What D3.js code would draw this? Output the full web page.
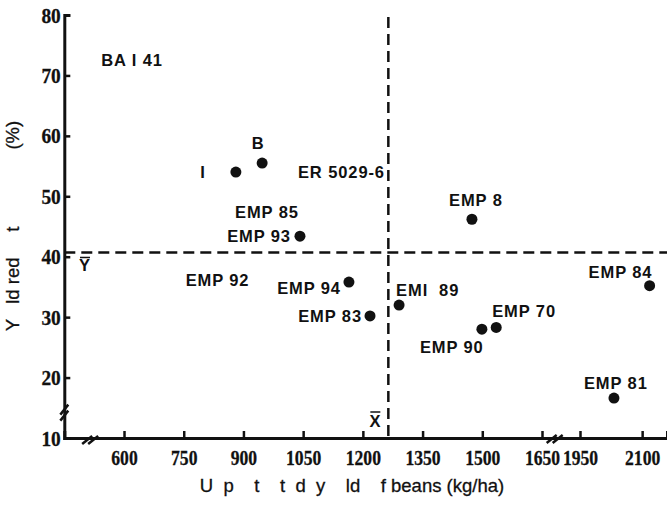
<!DOCTYPE html>
<html><head><meta charset="utf-8">
<script src="https://cdn.jsdelivr.net/npm/d3@7"></script>
<style>
html,body{margin:0;padding:0;background:#fff;}
svg{display:block;}
text{fill:#111;}
.tick text{font-family:"Liberation Serif",serif;font-weight:bold;font-size:22px;}
.lbl{font-family:"Liberation Sans",sans-serif;font-weight:bold;font-size:16.5px;letter-spacing:0.9px;}
.ttl{font-family:"Liberation Sans",sans-serif;font-size:18.5px;white-space:pre;stroke:#111;stroke-width:0.3px;}
</style></head><body>
<svg id="c" width="667" height="505"></svg>
<script>
// ---- data ----
const xTicks = [600, 750, 900, 1050, 1200, 1350, 1500, 1650, 1950, 2100];
const yTicks = [10, 20, 30, 40, 50, 60, 70, 80];
const names  = ["I", "B", "EMP 93", "EMP 94", "EMP 83", "EMI  89", "EMP 90", "EMP 70", "EMP 8", "EMP 84", "EMP 81"];
const yieldKgHa = [881, 947, 1042, 1165, 1218, 1291, 1499, 1535, 1474, 2118, 2032];
const reduction = [54.0, 55.5, 43.4, 35.8, 30.2, 32.0, 28.0, 28.3, 46.2, 35.2, 16.6];
// labels whose points are not visible in the original
const orphanNames = ["BA I 41", "ER 5029-6", "EMP 85", "EMP 92"];
const orphanX = [620, 1037, 959, 835];
const orphanY = [72.6, 54.0, 47.4, 36.1];
const meanX = 1264;
const meanY = 40.7;
const xTitle = "U  p    t    t  d  y    ld    f beans (kg/ha)";
const yTitle = "Y   ld red     t               (%)";

// ---- layout ----
const svg = d3.select("#c");
const x = d3.scaleLinear().domain([450, 1650, 1950, 2160]).range([64.3, 542, 580, 667]);
const y = d3.scaleLinear().domain([10, 80]).range([438, 15]);

// dashed mean lines
svg.append("line").attr("x1", x(450)).attr("x2", 667).attr("y1", y(meanY)).attr("y2", y(meanY))
  .attr("stroke", "#111").attr("stroke-width", 2.5).attr("stroke-dasharray", "11,6");
svg.append("line").attr("x1", x(meanX)).attr("x2", x(meanX)).attr("y1", y(80) + 2).attr("y2", y(10))
  .attr("stroke", "#111").attr("stroke-width", 2.5).attr("stroke-dasharray", "11,6");

// axes
const gx = svg.append("g").attr("transform", `translate(0,${y(10)})`)
  .call(d3.axisBottom(x).tickValues(xTicks).tickFormat(d3.format("d")).tickSize(-7).tickPadding(8));
const gy = svg.append("g").attr("transform", `translate(${x(450)},0)`)
  .call(d3.axisLeft(y).tickValues(yTicks).tickSize(-6).tickPadding(3));
[gx, gy].forEach(g => {
  g.select(".domain").attr("stroke", "#111").attr("stroke-width", 3);
  g.selectAll(".tick line").attr("stroke", "#111").attr("stroke-width", 2.5);
  g.selectAll(".tick text").attr("stroke", "#111").attr("stroke-width", 0.3);
});
gx.selectAll(".tick text").attr("dy", "0.85em").attr("transform", "scale(0.8,1)");
gy.selectAll(".tick text").attr("dx", "-1").attr("transform", "scale(0.88,1)");

// axis breaks
function brk(cx, cy) {
  [-3, 3].forEach(o => svg.append("line")
    .attr("x1", cx + o - 5).attr("y1", cy + 4).attr("x2", cx + o + 5).attr("y2", cy - 4)
    .attr("stroke", "#111").attr("stroke-width", 2.5));
}
brk(x(515), y(10) + 2);
brk(x(1750), y(10) + 1);
function brkV(cx, cy) {
  [-3, 3].forEach(o => svg.append("line")
    .attr("x1", cx - 4).attr("y1", cy + o + 5).attr("x2", cx + 4).attr("y2", cy + o - 5)
    .attr("stroke", "#111").attr("stroke-width", 2.5));
}
brkV(x(450), y(14.2));

// points
const pts = names.map((n, i) => ({n, x: yieldKgHa[i], y: reduction[i]}));
svg.selectAll("circle.p").data(pts).join("circle").attr("class", "p")
  .attr("cx", d => x(d.x)).attr("cy", d => y(d.y)).attr("r", 5.5).attr("fill", "#111");

// point labels (offsets are layout)
const off = {
  "I": [-33, 0, "middle"], "B": [-4, -20, "middle"], "EMP 93": [-9, 0, "end"],
  "EMP 94": [-8, 6, "end"], "EMP 83": [-8, 0, "end"], "EMI  89": [-3, -15, "start"],
  "EMP 90": [-62, 18, "start"], "EMP 70": [-4, -16, "start"], "EMP 8": [4, -19, "middle"],
  "EMP 84": [-61, -14, "start"], "EMP 81": [-30, -15, "start"]
};
svg.selectAll("text.lbl").data(pts).join("text").attr("class", "lbl")
  .attr("x", d => x(d.x) + off[d.n][0]).attr("y", d => y(d.y) + off[d.n][1])
  .attr("text-anchor", d => off[d.n][2]).attr("dominant-baseline", "central")
  .style("white-space", "pre").text(d => d.n);

const orph = orphanNames.map((n, i) => ({n, x: orphanX[i], y: orphanY[i]}));
const orphAnchor = {"BA I 41": "middle", "ER 5029-6": "start", "EMP 85": "middle", "EMP 92": "middle"};
svg.selectAll("text.olbl").data(orph).join("text").attr("class", "lbl olbl")
  .attr("x", d => x(d.x)).attr("y", d => y(d.y))
  .attr("text-anchor", d => orphAnchor[d.n]).attr("dominant-baseline", "central").text(d => d.n);

// mean symbols
svg.append("text").attr("class", "lbl").attr("x", 85).attr("y", y(meanY) + 13)
  .attr("text-anchor", "middle").attr("dominant-baseline", "central").text("Y");
svg.append("line").attr("x1", 80).attr("x2", 90).attr("y1", y(meanY) + 5).attr("y2", y(meanY) + 5).attr("stroke", "#111").attr("stroke-width", 1.5);
svg.append("text").attr("class", "lbl").attr("x", x(meanX) - 13).attr("y", 421)
  .attr("text-anchor", "middle").attr("dominant-baseline", "central").text("X");
svg.append("line").attr("x1", x(meanX) - 18).attr("x2", x(meanX) - 8).attr("y1", 412).attr("y2", 412).attr("stroke", "#111").attr("stroke-width", 1.5);

// titles
svg.append("text").attr("class", "ttl").attr("x", 352).attr("y", 492).attr("text-anchor", "middle").text(xTitle);
svg.append("text").attr("class", "ttl").attr("transform", "translate(19,226) rotate(-90)")
  .attr("text-anchor", "middle").text(yTitle);
</script></body></html>
